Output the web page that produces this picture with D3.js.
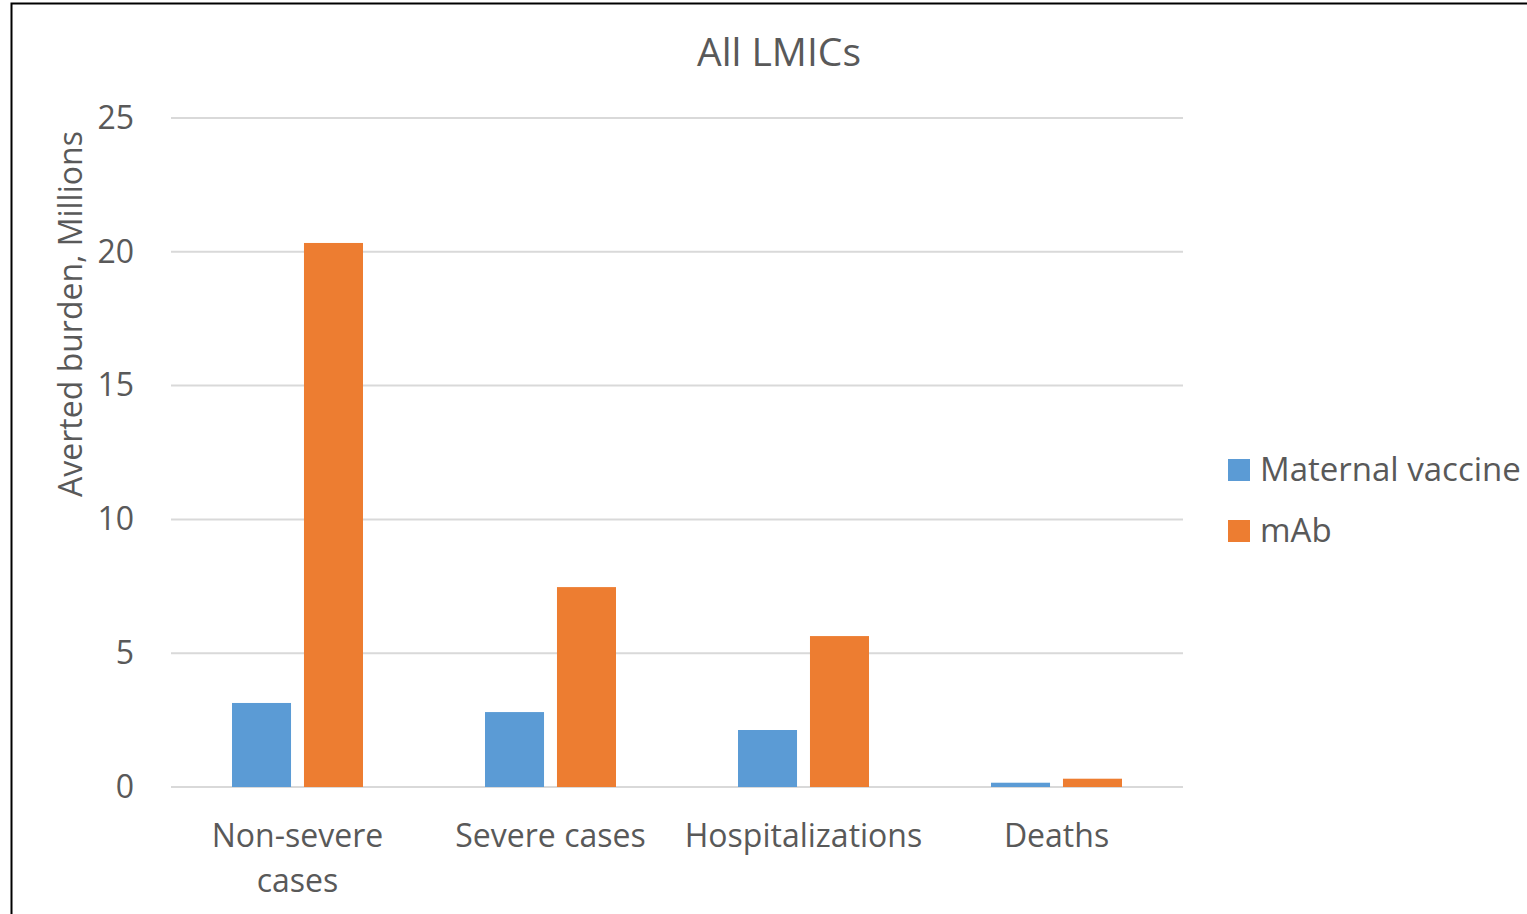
<!DOCTYPE html>
<html><head><meta charset="utf-8">
<script src="https://cdn.jsdelivr.net/npm/d3@7"></script>
<style>body{margin:0;background:#fff;} svg{display:block;}</style>
</head><body>
<script>
const categories = [["Non-severe","cases"],["Severe cases"],["Hospitalizations"],["Deaths"]];
const seriesNames = ["Maternal vaccine","mAb"];
const maternal = [3.14, 2.80, 2.13, 0.16];
const mab = [20.33, 7.47, 5.64, 0.31];
const yTicks = [0,5,10,15,20,25];
const colors = ["#5B9BD5","#ED7D31"];

const W=1527,H=914;
const svg=d3.select("body").append("svg").attr("width",W).attr("height",H);
const font="'Open Sans', 'Liberation Sans', sans-serif";
svg.append("rect").attr("x",11.5).attr("y",3.5).attr("width",W+20).attr("height",H+20)
  .attr("fill","#fff").attr("stroke","#000").attr("stroke-width",2);

const pL=171,pR=1183,pT=118,pB=787;
const x=d3.scaleBand().domain(d3.range(categories.length)).range([pL,pR]).paddingInner(0).paddingOuter(0);
const y=d3.scaleLinear().domain([0,25]).range([pB,pT]);
const xs=d3.scaleBand().domain([0,1]).range([61,x.bandwidth()-61]).paddingInner(0.18);

const g=svg.append("g");
g.selectAll("line.grid").data(yTicks).join("line")
  .attr("x1",pL).attr("x2",pR).attr("y1",d=>y(d)).attr("y2",d=>y(d))
  .attr("stroke","#d9d9d9").attr("stroke-width",2);

const yAxis=d3.axisLeft(y).tickValues(yTicks).tickSize(0).tickPadding(37);
const ya=svg.append("g").attr("transform",`translate(${pL},0)`).call(yAxis);
ya.select(".domain").remove();
ya.selectAll("text").attr("font-family",font).attr("font-size",32).attr("fill","#595959");

const data=categories.map((c,i)=>[maternal[i],mab[i]]);
const grp=svg.selectAll("g.cat").data(data).join("g").attr("transform",(d,i)=>`translate(${x(i)},0)`);
grp.selectAll("rect").data(d=>d).join("rect")
  .attr("x",(d,j)=>xs(j)).attr("width",xs.bandwidth())
  .attr("y",d=>y(d)).attr("height",d=>pB-y(d))
  .attr("fill",(d,j)=>colors[j]);

const xl=svg.selectAll("text.xl").data(categories).join("text")
  .attr("font-family",font).attr("font-size",32).attr("fill","#595959").attr("text-anchor","middle");
xl.each(function(c,i){
  const t=d3.select(this);
  c.forEach((line,k)=>t.append("tspan").attr("x",x(i)+x.bandwidth()/2).attr("y",847+k*45).text(line));
});

svg.append("text").attr("x",779).attr("y",66).attr("text-anchor","middle")
  .attr("font-family",font).attr("font-size",39).attr("fill","#595959").text("All LMICs");

svg.append("text").attr("transform",`translate(82,314) rotate(-90)`)
  .attr("text-anchor","middle").attr("font-family",font).attr("font-size",32).attr("fill","#595959")
  .text("Averted burden, Millions");

const lg=svg.selectAll("g.leg").data(seriesNames).join("g").attr("transform",(d,i)=>`translate(1228,${459+i*61})`);
lg.append("rect").attr("width",22).attr("height",22).attr("fill",(d,i)=>colors[i]);
lg.append("text").attr("x",32).attr("y",22).attr("font-family",font).attr("font-size",33).attr("fill","#595959").text(d=>d);
</script>
</body></html>
